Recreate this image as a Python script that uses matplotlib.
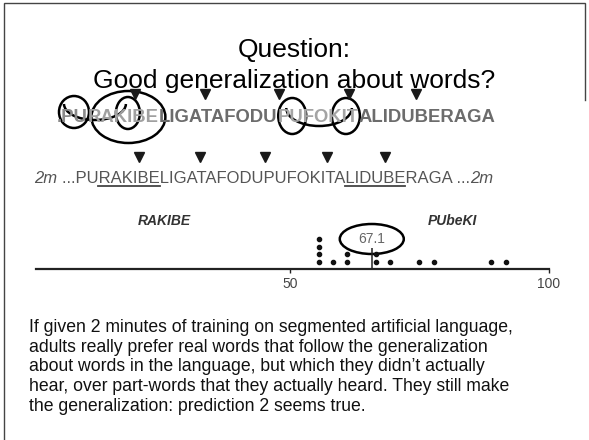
import matplotlib
matplotlib.use("Agg")
import matplotlib.pyplot as plt
from matplotlib.patches import Ellipse, Arc

# ---------------- data ----------------
title_lines = ["Question:", "Good generalization about words?"]
stream_words = ["PURAKI", "BELIGA", "TAFODU", "PUFOKI", "TALIDU", "BERAGA"]
stream_segments = [".PU", "RAKIBE", "LIGATAFODU", "PUFOKIT", "ALIDUBERAGA"]
stream_colors = ["#8a8a8a", "#a0a0a0", "#6c6c6c", "#a4a4a4", "#6c6c6c"]
test_prefix = "2m"
test_stream = "...PURAKIBELIGATAFODUPUFOKITALIDUBERAGA ..."
test_suffix = "2m"
underlined_words = ["RAKIBE", "LIDUBE"]
word_label = "RAKIBE"
partword_label = "PUbeKI"
score_values = [55.6, 58.3, 61.1, 66.7, 69.4, 75.0, 77.8, 88.9, 91.7]
score_counts = [4, 1, 2, 2, 1, 1, 1, 1, 1]
mean_position = 65.8
mean_label = "67.1"
axis_ticks = [50, 100]
axis_tick_labels = ["50", "100"]
axis_range = (1, 100)
body_lines = [
    "If given 2 minutes of training on segmented artificial language,",
    "adults really prefer real words that follow the generalization",
    "about words in the language, but which they didn\u2019t actually",
    "hear, over part-words that they actually heard. They still make",
    "the generalization: prediction 2 seems true.",
]

# ---------------- figure ----------------
W, H = 589, 440
fig = plt.figure(figsize=(W / 100, H / 100), dpi=100)
ax = fig.add_axes([0, 0, 1, 1])
ax.set_xlim(0, W)
ax.set_ylim(H, 0)
ax.axis("off")
fig.canvas.draw()
renderer = fig.canvas.get_renderer()

FONT = "Liberation Sans"

def text_width(s, **kw):
    t = ax.text(0, 0, s, family=FONT, **kw)
    w = t.get_window_extent(renderer).width
    t.remove()
    return w

# border of the slide
ax.plot([4, 4, 585, 585], [H, 3.5, 3.5, 100], color="#444444", lw=1.0,
        solid_joinstyle="miter")

# title
ax.text(W / 2, 57, title_lines[0], ha="center", va="baseline", family=FONT,
        fontsize=19, color="black")
ax.text(W / 2, 88, title_lines[1], ha="center", va="baseline", family=FONT,
        fontsize=19, color="black")

# ---- row 1: familiarisation stream with circles ----
r1_kw = dict(fontsize=13.35, fontweight="bold")
r1_x0, r1_base = 57, 122
full1 = "".join(stream_segments)
prefix = ""
for seg, col in zip(stream_segments, stream_colors):
    xs = r1_x0 + text_width(prefix, **r1_kw) if prefix else r1_x0
    ax.text(xs, r1_base, seg, ha="left", va="baseline", family=FONT,
            color=col, **r1_kw)
    prefix += seg

def span1(start, length):
    a = r1_x0 + (text_width(full1[:start], **r1_kw) if start else 0)
    b = r1_x0 + text_width(full1[:start + length], **r1_kw)
    return a, b

# word boundary arrows for row 1
cum = 1  # leading "."
for wd in stream_words[:-1]:
    cum += len(wd)
    bx = r1_x0 + text_width(full1[:cum], **r1_kw)
    ax.plot(bx + 2, 94, marker="v", ms=6.5, color="#1a1a1a", mec="#1a1a1a")

# circles (annotations)
pu1 = span1(1, 2)
ki1 = span1(5, 2)
rk1 = span1(3, 6)
pu2 = span1(full1.index("PUFOKIT"), 2)
ki2 = span1(full1.index("PUFOKIT") + 4, 2)
lw_c = 1.8
def circ(a, b, cy, w, h, dx=0):
    ax.add_patch(Ellipse(((a + b) / 2 + dx, cy), w, h, fill=False,
                         lw=lw_c, ec="black"))
circ(*pu1, 112, 30, 32, dx=-1)
circ(*rk1, 117, 74, 52, dx=5)
circ(*ki1, 113, 24, 32, dx=4)
circ(*pu2, 116, 28, 36, dx=2)
circ(*ki2, 116, 28, 36, dx=8)
c1 = ((pu1[0] + pu1[1]) / 2 - 1, (ki1[0] + ki1[1]) / 2 + 4)
ax.add_patch(Arc(((c1[0] + c1[1]) / 2 - 6, 104), (c1[1] - c1[0]) + 8, 32,
                 theta1=0, theta2=180, lw=lw_c, color="black"))
c2 = ((pu2[0] + pu2[1]) / 2 + 2, (ki2[0] + ki2[1]) / 2 + 8)
ax.add_patch(Arc(((c2[0] + c2[1]) / 2, 108), (c2[1] - c2[0]) + 12, 36,
                 theta1=0, theta2=180, lw=lw_c, color="black"))

# ---- row 2: test stream ----
r2_fs = 12.0
r2_kw = dict(fontsize=r2_fs)
r2_base = 183
r2_col = "#555555"
ax.text(34, r2_base, test_prefix, ha="left", va="baseline", family=FONT,
        fontsize=r2_fs, style="italic", color=r2_col)
r2_x0 = 34 + text_width(test_prefix, fontsize=r2_fs, style="italic") + \
    text_width("a a", **r2_kw) - text_width("aa", **r2_kw)
ax.text(r2_x0, r2_base, test_stream, ha="left", va="baseline", family=FONT,
        color=r2_col, **r2_kw)
r2_end = r2_x0 + text_width(test_stream, **r2_kw)
ax.text(r2_end, r2_base, test_suffix, ha="left", va="baseline", family=FONT,
        fontsize=r2_fs, style="italic", color=r2_col)

cum = 3
for wd in stream_words[:-1]:
    cum += len(wd)
    bx = r2_x0 + text_width(test_stream[:cum], **r2_kw)
    ax.plot(bx + 2, 157, marker="v", ms=6.5, color="#1a1a1a", mec="#1a1a1a")

for wd in underlined_words:
    i = test_stream.index(wd)
    a = r2_x0 + text_width(test_stream[:i], **r2_kw)
    b = r2_x0 + text_width(test_stream[:i + len(wd)], **r2_kw)
    ax.plot([a, b], [186.5, 186.5], color="#444444", lw=1.3)

# labels above dot plot
ax.text(164, 225, word_label, ha="center", va="baseline", family=FONT,
        fontsize=10, fontweight="bold", style="italic", color="#333333")
ax.text(452, 225, partword_label, ha="center", va="baseline", family=FONT,
        fontsize=10, fontweight="bold", style="italic", color="#333333")

# ---- dot plot ----
ax_left_px, ax_right_px, axis_y_px = 36, 549, 269
ax2 = fig.add_axes([ax_left_px / W, (H - axis_y_px) / H,
                    (ax_right_px - ax_left_px) / W, 50 / H])
ax2.set_xlim(*axis_range)
ax2.set_ylim(0, 50)
ax2.patch.set_alpha(0)
for s in ["top", "left", "right"]:
    ax2.spines[s].set_visible(False)
ax2.spines["bottom"].set_linewidth(1.6)
ax2.spines["bottom"].set_color("#222222")
ax2.set_yticks([])
ax2.set_xticks(axis_ticks)
ax2.set_xticklabels(axis_tick_labels, family=FONT, fontsize=10, color="#444444")
ax2.tick_params(axis="x", direction="out", length=3, width=1, pad=3,
                color="#222222")

xs, ys = [], []
for v, n in zip(score_values, score_counts):
    for k in range(n):
        xs.append(v)
        ys.append(7 + 7.6 * k)
ax2.scatter(xs, ys, s=9, color="#111111", zorder=3, clip_on=False)
ax2.vlines(mean_position, 0, 21, color="#222222", lw=1.1)
px_per_unit = (ax_right_px - ax_left_px) / (axis_range[1] - axis_range[0])
ax2.add_patch(Ellipse((mean_position, 30), 64 / px_per_unit, 30, fill=False,
                      lw=1.8, ec="black", clip_on=False))
ax2.text(mean_position, 30, mean_label, ha="center", va="center", family=FONT,
         fontsize=10, color="#666666")

# ---- body text ----
for i, line in enumerate(body_lines):
    ax.text(29, 332 + 19.7 * i, line, ha="left", va="baseline", family=FONT,
            fontsize=12.7, color="#111111")

fig.savefig("out.png", dpi=100)
